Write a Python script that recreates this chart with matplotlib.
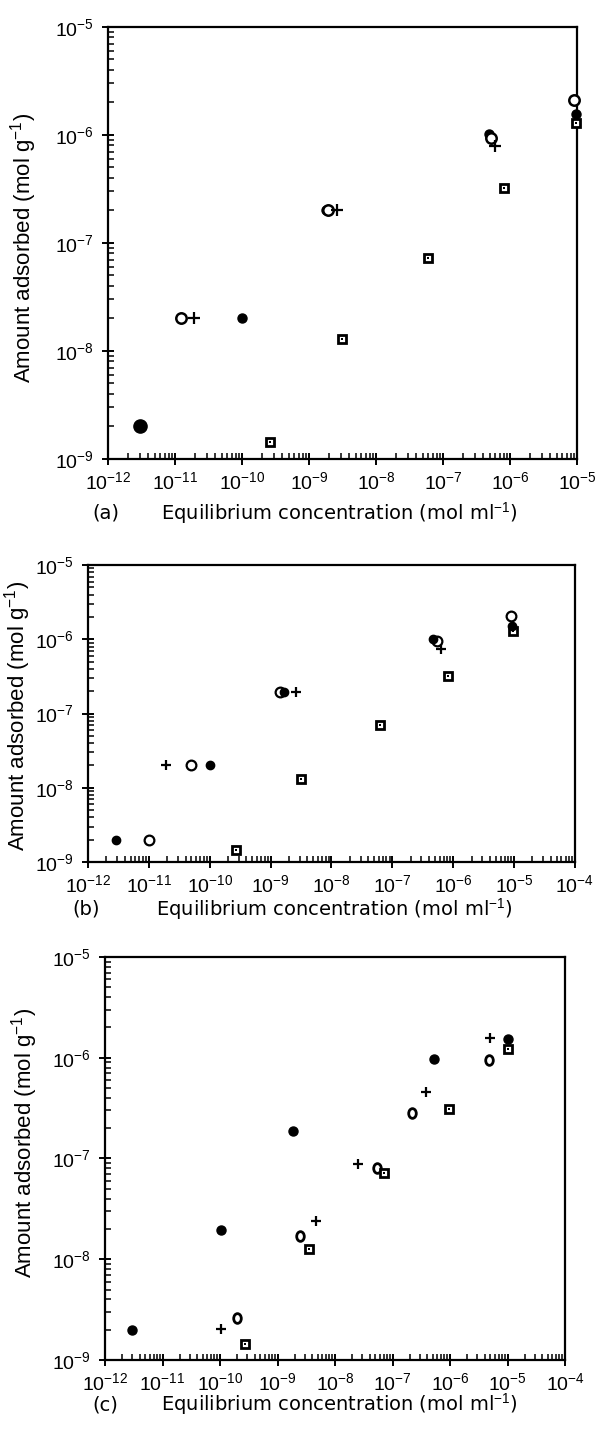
import matplotlib
matplotlib.use("Agg")
import matplotlib.pyplot as plt
from matplotlib.markers import MarkerStyle
from matplotlib.ticker import LogLocator, LogFormatterSciNotation, NullFormatter
from matplotlib.transforms import Affine2D

# data, panel (a)
a_fill_x = [3e-12, 1e-10, 1.8e-9, 4.8e-7, 9.5e-6]
a_fill_y = [2e-9, 2e-8, 2e-7, 1.02e-6, 1.55e-6]
a_fill_s = [9.5, 6.5, 6.5, 6.5, 6.5]
a_open_x = [1.25e-11, 1.95e-9, 5.2e-7, 9.0e-6]
a_open_y = [2e-8, 2e-7, 9.4e-7, 2.1e-6]
a_plus_x = [1.95e-11, 2.6e-9, 6.0e-7]
a_plus_y = [2e-8, 2e-7, 7.9e-7]
a_sq_x = [2.6e-10, 3.1e-9, 6.0e-8, 8.2e-7, 9.6e-6]
a_sq_y = [1.45e-9, 1.3e-8, 7.3e-8, 3.2e-7, 1.28e-6]

# panel (b)
b_fill_x = [2.9e-12, 1e-10, 1.65e-9, 4.7e-7, 9.3e-6]
b_fill_y = [2e-9, 2e-8, 1.95e-7, 1e-6, 1.5e-6]
b_open_x = [1e-11, 5e-11, 1.4e-9, 5.4e-7, 9e-6]
b_open_y = [2e-9, 2e-8, 1.95e-7, 9.6e-7, 2.05e-6]
b_plus_x = [1.9e-11, 2.6e-9, 6.2e-7]
b_plus_y = [2e-8, 1.95e-7, 7.5e-7]
b_sq_x = [2.7e-10, 3.2e-9, 6.2e-8, 8.2e-7, 9.5e-6]
b_sq_y = [1.45e-9, 1.3e-8, 7.1e-8, 3.2e-7, 1.3e-6]

# panel (c)
c_fill_x = [3e-12, 1.05e-10, 1.85e-9, 5.2e-7, 1.02e-5]
c_fill_y = [2e-9, 1.95e-8, 1.87e-7, 9.7e-7, 1.52e-6]
c_open_x = [2e-10, 2.5e-9, 5.4e-8, 2.2e-7, 4.8e-6]
c_open_y = [2.6e-9, 1.7e-8, 8e-8, 2.8e-7, 9.5e-7]
c_plus_x = [1.05e-10, 4.7e-9, 2.5e-8, 3.9e-7, 5e-6]
c_plus_y = [2.05e-9, 2.4e-8, 8.8e-8, 4.6e-7, 1.57e-6]
c_sq_x = [2.7e-10, 3.5e-9, 7e-8, 9.6e-7, 1.02e-5]
c_sq_y = [1.45e-9, 1.26e-8, 7.2e-8, 3.1e-7, 1.22e-6]

plt.rcParams["font.family"] = "Liberation Sans"
plt.rcParams["mathtext.fontset"] = "custom"
plt.rcParams["mathtext.rm"] = "Liberation Sans"
plt.rcParams["mathtext.it"] = "Liberation Sans:italic"
plt.rcParams["mathtext.bf"] = "Liberation Sans:bold"

fig = plt.figure(figsize=(5.97, 14.32), dpi=100)

ax_a = fig.add_axes([0.1809, 0.6795, 0.7856, 0.3017])
ax_b = fig.add_axes([0.1474, 0.3980, 0.8157, 0.2074])
ax_c = fig.add_axes([0.1759, 0.0503, 0.7705, 0.2814])

ellipse = MarkerStyle("o", transform=Affine2D().scale(0.78, 1.0))


def style(ax, xmax):
    ax.set_xscale("log")
    ax.set_yscale("log")
    ax.set_xlim(1e-12, xmax)
    ax.set_ylim(1e-9, 1e-5)
    for s in ax.spines.values():
        s.set_linewidth(1.6)
    for axis in (ax.xaxis, ax.yaxis):
        axis.set_major_locator(LogLocator(base=10, numticks=30))
        axis.set_major_formatter(LogFormatterSciNotation(base=10))
        axis.set_minor_locator(LogLocator(base=10, subs=range(2, 10), numticks=30))
        axis.set_minor_formatter(NullFormatter())
    ax.tick_params(which="major", direction="inout", length=8, width=1.4,
                   labelsize=14, top=False, right=False, pad=5)
    ax.tick_params(axis="y", which="major", pad=6)
    ax.tick_params(which="minor", direction="in", length=4, width=1.1,
                   top=False, right=False)


def squares(ax, x, y, ms=6):
    ax.plot(x, y, ls="none", marker="s", ms=ms, mfc="white", mec="black",
            mew=2.0, clip_on=False, zorder=3)
    ax.plot(x, y, ls="none", marker="s", ms=1.6, mfc="black", mec="black",
            mew=0, clip_on=False, zorder=4)


def pluses(ax, x, y, ms=8):
    ax.plot(x, y, ls="none", marker="+", ms=ms, mec="black", mew=1.6,
            clip_on=False, zorder=5)


# panel (a)
style(ax_a, 1e-5)
for xi, yi, si in zip(a_fill_x, a_fill_y, a_fill_s):
    ax_a.plot([xi], [yi], ls="none", marker="o", ms=si, mfc="black",
              mec="black", clip_on=False, zorder=3)
ax_a.plot(a_open_x, a_open_y, ls="none", marker="o", ms=7.5, mfc="white",
          mec="black", mew=1.8, clip_on=False, zorder=4)
pluses(ax_a, a_plus_x, a_plus_y)
squares(ax_a, a_sq_x, a_sq_y)

# panel (b)
style(ax_b, 1e-4)
ax_b.plot(b_fill_x, b_fill_y, ls="none", marker="o", ms=6, mfc="black",
          mec="black", clip_on=False, zorder=4)
ax_b.plot(b_open_x, b_open_y, ls="none", marker="o", ms=7, mfc="white",
          mec="black", mew=1.6, clip_on=False, zorder=3)
pluses(ax_b, b_plus_x, b_plus_y, ms=7)
squares(ax_b, b_sq_x, b_sq_y, ms=5.5)

# panel (c)
style(ax_c, 1e-4)
ax_c.plot(c_fill_x, c_fill_y, ls="none", marker="o", ms=6.5, mfc="black",
          mec="black", clip_on=False, zorder=4)
ax_c.plot(c_open_x, c_open_y, ls="none", marker=ellipse, ms=7, mfc="white",
          mec="black", mew=2.0, clip_on=False, zorder=3)
pluses(ax_c, c_plus_x, c_plus_y, ms=7.5)
squares(ax_c, c_sq_x, c_sq_y, ms=6)

ylab = "Amount adsorbed (mol g$^{-1}$)"
xlab = "Equilibrium concentration (mol ml$^{-1}$)"

for yc, xc, in [(0.8272, 0.040), (0.5000, 0.030), (0.2017, 0.041)]:
    fig.text(xc, yc, ylab, rotation=90, ha="center", va="center", fontsize=16)

for tag, ty, tx, lx in [("(a)", 0.6418, 0.177, 0.568),
                        ("(b)", 0.3652, 0.145, 0.560),
                        ("(c)", 0.0192, 0.177, 0.568)]:
    fig.text(tx, ty, tag, ha="center", va="center", fontsize=14,
             family="DejaVu Sans")
    fig.text(lx, ty, xlab, ha="center", va="center", fontsize=14,
             family="DejaVu Sans")

fig.savefig("out.png", dpi=100)
